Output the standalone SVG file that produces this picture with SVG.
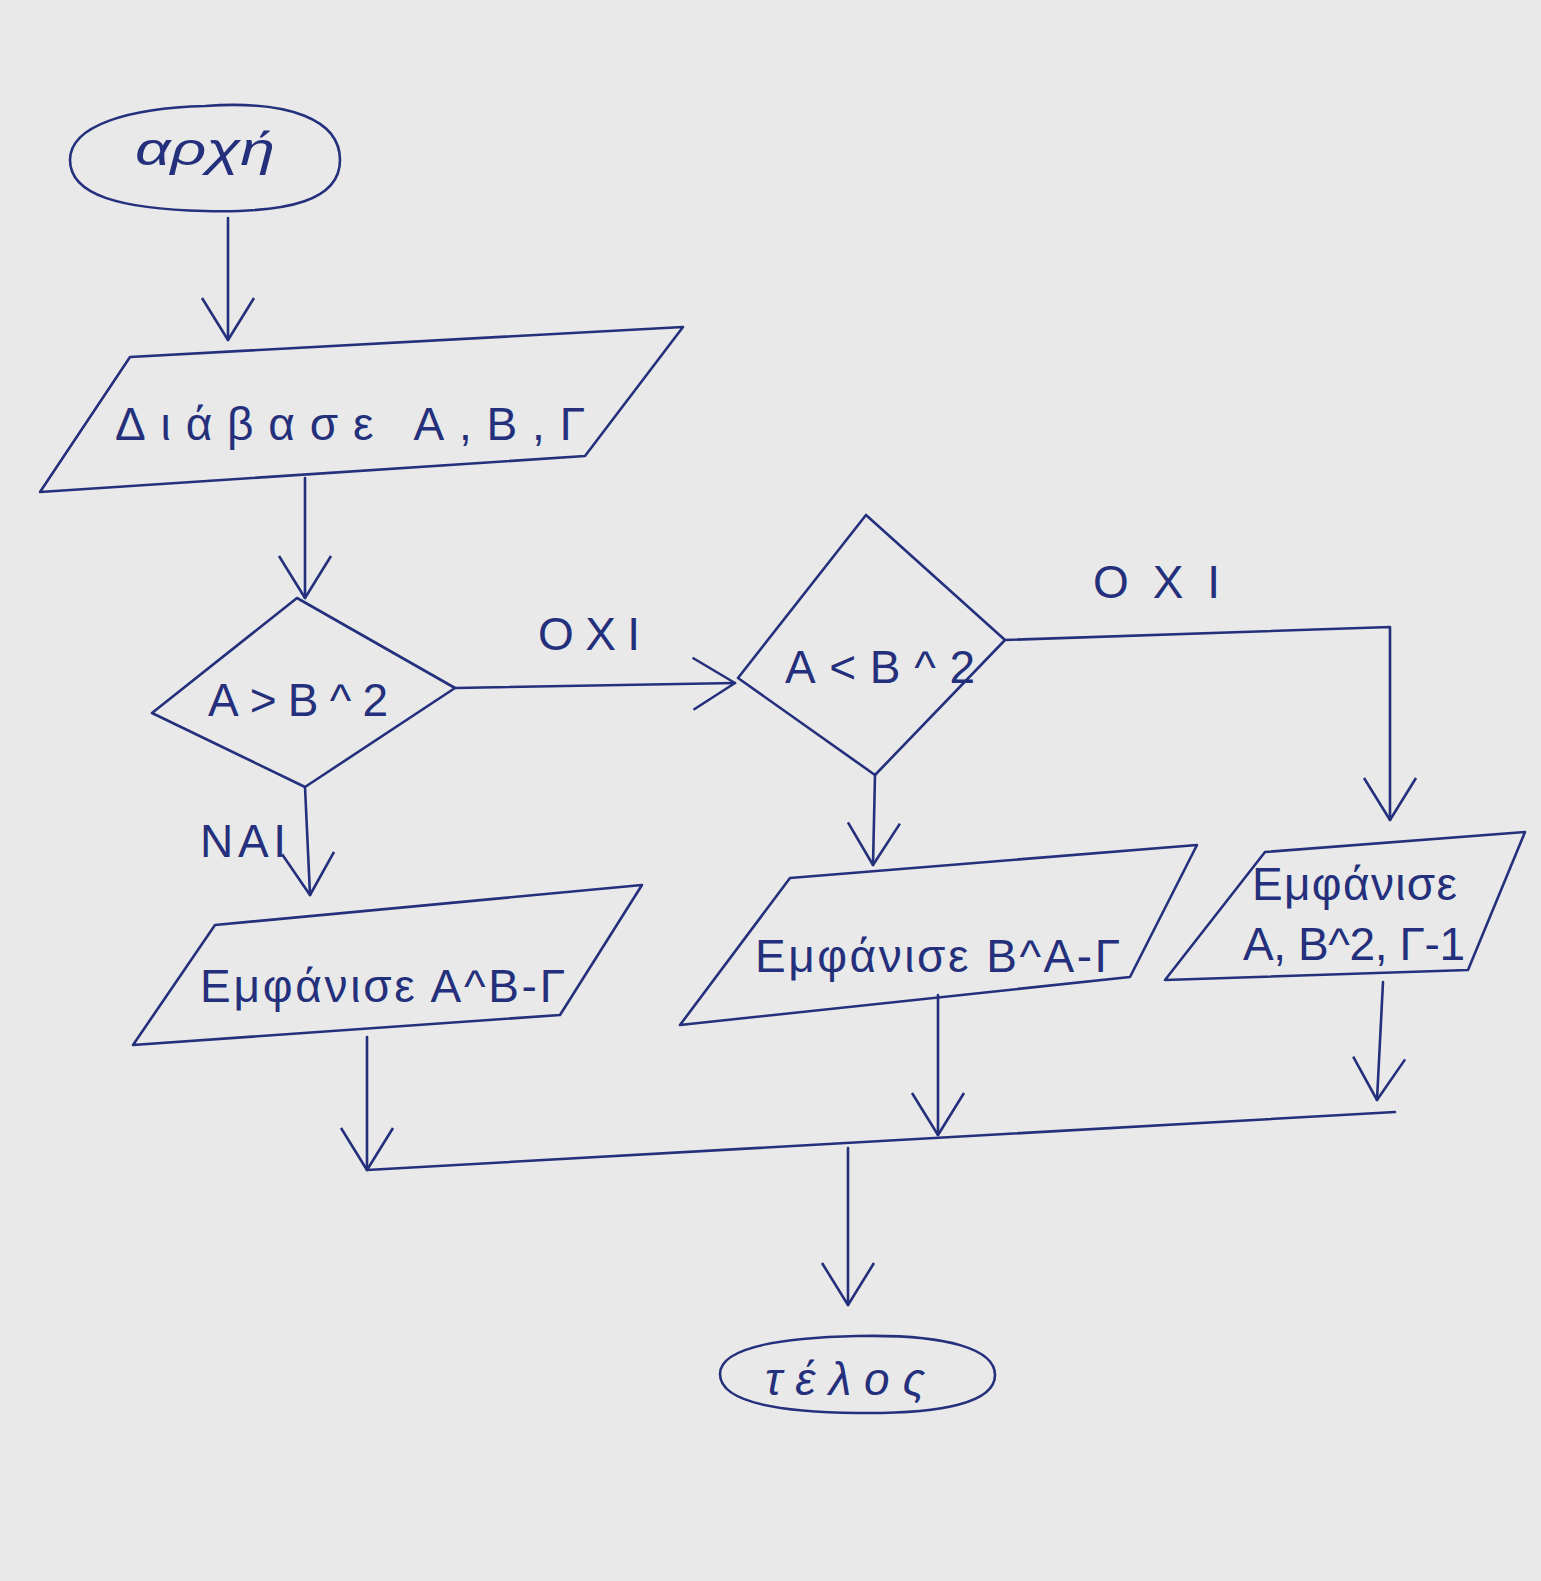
<svg xmlns="http://www.w3.org/2000/svg" width="1541" height="1581" viewBox="0 0 1541 1581">
<style>
.bg{fill:#e9e9e9}
.s{fill:none;stroke:#24307c;stroke-width:2.6;stroke-linejoin:round;stroke-linecap:round}
.t{fill:#24307c;font-family:"Liberation Sans","DejaVu Sans",sans-serif;font-size:46px}
</style>
<defs>
<marker id="v" markerUnits="userSpaceOnUse" viewBox="-44 -34 46 68" refX="0" refY="0" markerWidth="46" markerHeight="68" orient="auto">
<path d="M-42,-26 L0,0 L-42,26" fill="none" stroke="#24307c" stroke-width="2.6" stroke-linejoin="round"/>
</marker>
</defs>
<rect class="bg" x="0" y="0" width="1541" height="1581"/>

<g id="start">
<path class="s" d="M205,106 C290,100 340,120 340,160 C340,200 290,213 205,211 C120,209 70,195 70,160 C70,125 130,108 205,106 Z"/>
<text class="t" x="135" y="165" font-size="50" textLength="140" lengthAdjust="spacingAndGlyphs" font-style="italic">αρχή</text>
</g>

<g id="read">
<path class="s" d="M130,357 L683,327 L585,456 L40,492 Z"/>
<text class="t" x="115" y="440" font-size="54" textLength="470" lengthAdjust="spacing">Διάβασε Α,Β,Γ</text>
</g>

<g id="cond1">
<path class="s" d="M297,598 L455,688 L305,787 L152,713 Z"/>
<text class="t" x="208" y="716" font-size="52" textLength="180" lengthAdjust="spacing">Α&gt;Β^2</text>
</g>

<g id="cond2">
<path class="s" d="M866,515 L1005,640 L875,775 L738,678 Z"/>
<text class="t" x="785" y="683" font-size="54" textLength="190" lengthAdjust="spacing">Α&lt;Β^2</text>
</g>

<g id="out1">
<path class="s" d="M215,925 L642,885 L560,1015 L133,1045 Z"/>
<text class="t" x="200" y="1002" textLength="365" lengthAdjust="spacing">Εμφάνισε Α^Β-Γ</text>
</g>

<g id="out2">
<path class="s" d="M790,878 L1197,845 L1130,977 L680,1025 Z"/>
<text class="t" x="755" y="972" textLength="365" lengthAdjust="spacing">Εμφάνισε Β^Α-Γ</text>
</g>

<g id="out3">
<path class="s" d="M1265,852 L1525,832 L1468,970 L1165,980 Z"/>
<text class="t" x="1252" y="900" font-size="42" textLength="205" lengthAdjust="spacing">Εμφάνισε</text>
<text class="t" x="1243" y="960" font-size="42" textLength="222" lengthAdjust="spacing">Α, Β^2, Γ-1</text>
</g>

<g id="end">
<path class="s" d="M857,1336 C950,1334 995,1350 995,1375 C995,1402 945,1414 857,1413 C770,1412 720,1400 720,1374 C720,1350 770,1338 857,1336 Z"/>
<text class="t" x="765" y="1395" font-size="50" textLength="160" lengthAdjust="spacing" font-style="italic">τέλος</text>
</g>

<g id="labels">
<text class="t" x="538" y="650" font-size="38" textLength="102" lengthAdjust="spacing">ΟΧΙ</text>
<text class="t" x="1093" y="598" font-size="38" textLength="127" lengthAdjust="spacing">ΟΧΙ</text>
<text class="t" x="200" y="857" font-size="38" textLength="86" lengthAdjust="spacing">ΝΑΙ</text>
</g>

<g id="connectors">
<path class="s" d="M228,218 L228,340" marker-end="url(#v)"/>
<path class="s" d="M305,478 L305,598" marker-end="url(#v)"/>
<path class="s" d="M455,688 L735,683" marker-end="url(#v)"/>
<path class="s" d="M305,787 L310,895" marker-end="url(#v)"/>
<path class="s" d="M875,775 L873,865" marker-end="url(#v)"/>
<path class="s" d="M1005,640 L1390,627 L1390,820" marker-end="url(#v)"/>
<path class="s" d="M367,1037 L367,1170" marker-end="url(#v)"/>
<path class="s" d="M938,995 L938,1135" marker-end="url(#v)"/>
<path class="s" d="M1383,982 L1377,1100" marker-end="url(#v)"/>
<path class="s" d="M367,1170 L1395,1112"/>
<path class="s" d="M848,1148 L848,1305" marker-end="url(#v)"/>
</g>
</svg>
